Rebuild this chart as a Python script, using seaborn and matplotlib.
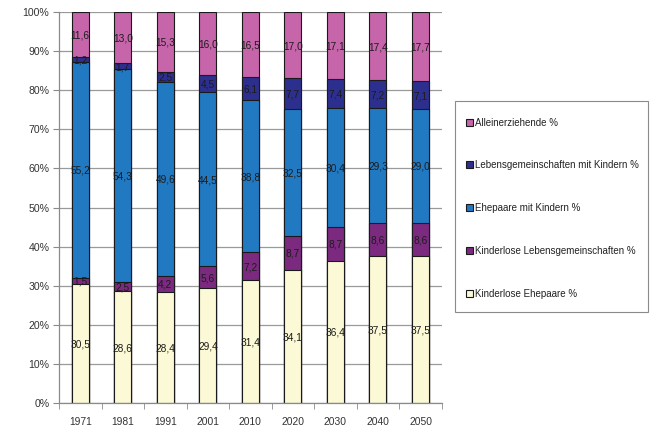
import numpy as np
import pandas as pd
import matplotlib
matplotlib.use("Agg")
import matplotlib.pyplot as plt
import seaborn as sns
from matplotlib.patches import Patch, Rectangle
from matplotlib.ticker import FixedLocator

years = ["1971", "1981", "1991", "2001", "2010", "2020", "2030", "2040", "2050"]
series_names = [
    "Kinderlose Ehepaare %",
    "Kinderlose Lebensgemeinschaften %",
    "Ehepaare mit Kindern %",
    "Lebensgemeinschaften mit Kindern %",
    "Alleinerziehende %",
]
kinderlose_ehepaare = [30.5, 28.6, 28.4, 29.4, 31.4, 34.1, 36.4, 37.5, 37.5]
kinderlose_lg = [1.5, 2.5, 4.2, 5.6, 7.2, 8.7, 8.7, 8.6, 8.6]
ehepaare_mit_kindern = [55.2, 54.3, 49.6, 44.5, 38.8, 32.5, 30.4, 29.3, 29.0]
lg_mit_kindern = [1.2, 1.7, 2.5, 4.5, 6.1, 7.7, 7.4, 7.2, 7.1]
alleinerziehende = [11.6, 13.0, 15.3, 16.0, 16.5, 17.0, 17.1, 17.4, 17.7]
colors = ["#FBF9D6", "#7B2A80", "#2179C2", "#2D2F8E", "#C765AA"]

sns.set_style("white")
plt.rcParams["font.family"] = ["Liberation Sans", "DejaVu Sans"]

values = np.array([kinderlose_ehepaare, kinderlose_lg, ehepaare_mit_kindern,
                   lg_mit_kindern, alleinerziehende])
pct = values / values.sum(axis=0) * 100
cum = np.cumsum(pct, axis=0)

fig = plt.figure(figsize=(6.51, 4.29), dpi=100)
ax = fig.add_axes([0.0906, 0.0606, 0.588, 0.9114])

# draw cumulative bars back to front
for i in range(len(series_names) - 1, -1, -1):
    df = pd.DataFrame({"year": years, "value": cum[i]})
    sns.barplot(data=df, x="year", y="value", color=colors[i], width=0.4,
                edgecolor="#1a1a1a", linewidth=0.8, saturation=1, ax=ax,
                zorder=2)

# labels
for i in range(len(series_names)):
    for j, y in enumerate(years):
        mid = cum[i, j] - pct[i, j] / 2
        txt = f"{values[i, j]:.1f}".replace(".", ",")
        ax.text(j, mid, txt, ha="center", va="center_baseline", fontsize=7.3,
                color="#1c1c1c", zorder=5)

ax.set_xlim(-0.5, len(years) - 0.5)
ax.set_ylim(0, 100)
ax.set_yticks(np.arange(0, 101, 10))
ax.set_yticklabels([f"{v}%" for v in range(0, 101, 10)])
ax.set_xlabel("")
ax.set_ylabel("")
ax.yaxis.grid(True, color="#9a9a9a", linewidth=0.9, zorder=0)
ax.set_axisbelow(True)
for s in ["top", "right"]:
    ax.spines[s].set_visible(False)
for s in ["left", "bottom"]:
    ax.spines[s].set_color("#8a8a8a")
    ax.spines[s].set_linewidth(0.9)
ax.tick_params(axis="y", length=4, color="#8a8a8a", labelsize=7.6,
               labelcolor="#333333", pad=3, left=True)
ax.tick_params(axis="x", which="major", length=0, labelsize=7.4,
               labelcolor="#333333", pad=10)
ax.xaxis.set_minor_locator(FixedLocator(np.arange(-0.5, len(years), 1)))
ax.tick_params(axis="x", which="minor", length=4, color="#8a8a8a",
               direction="out", bottom=True)

# legend frame
W, H = 651.0, 429.0
fig.patches.append(Rectangle((455 / W, 1 - 312 / H), (648 - 455) / W,
                             (312 - 101) / H, transform=fig.transFigure,
                             facecolor="white", edgecolor="#8a8a8a",
                             linewidth=0.8, zorder=1))

handles = [Patch(facecolor=colors[i], edgecolor="#1a1a1a", linewidth=0.8)
           for i in range(len(series_names) - 1, -1, -1)]
labels = series_names[::-1]
leg = fig.legend(handles, labels, loc="upper left",
                 bbox_to_anchor=(466 / W, 1 - 117.5 / H),
                 fontsize=7.0, frameon=False,
                 handlelength=0.7, handleheight=0.7,
                 handletextpad=0.25, labelspacing=3.37, borderpad=0,
                 borderaxespad=0)
leg.set_zorder(3)
for t in leg.get_texts():
    t.set_color("#222222")

fig.savefig("out.png", dpi=100)
